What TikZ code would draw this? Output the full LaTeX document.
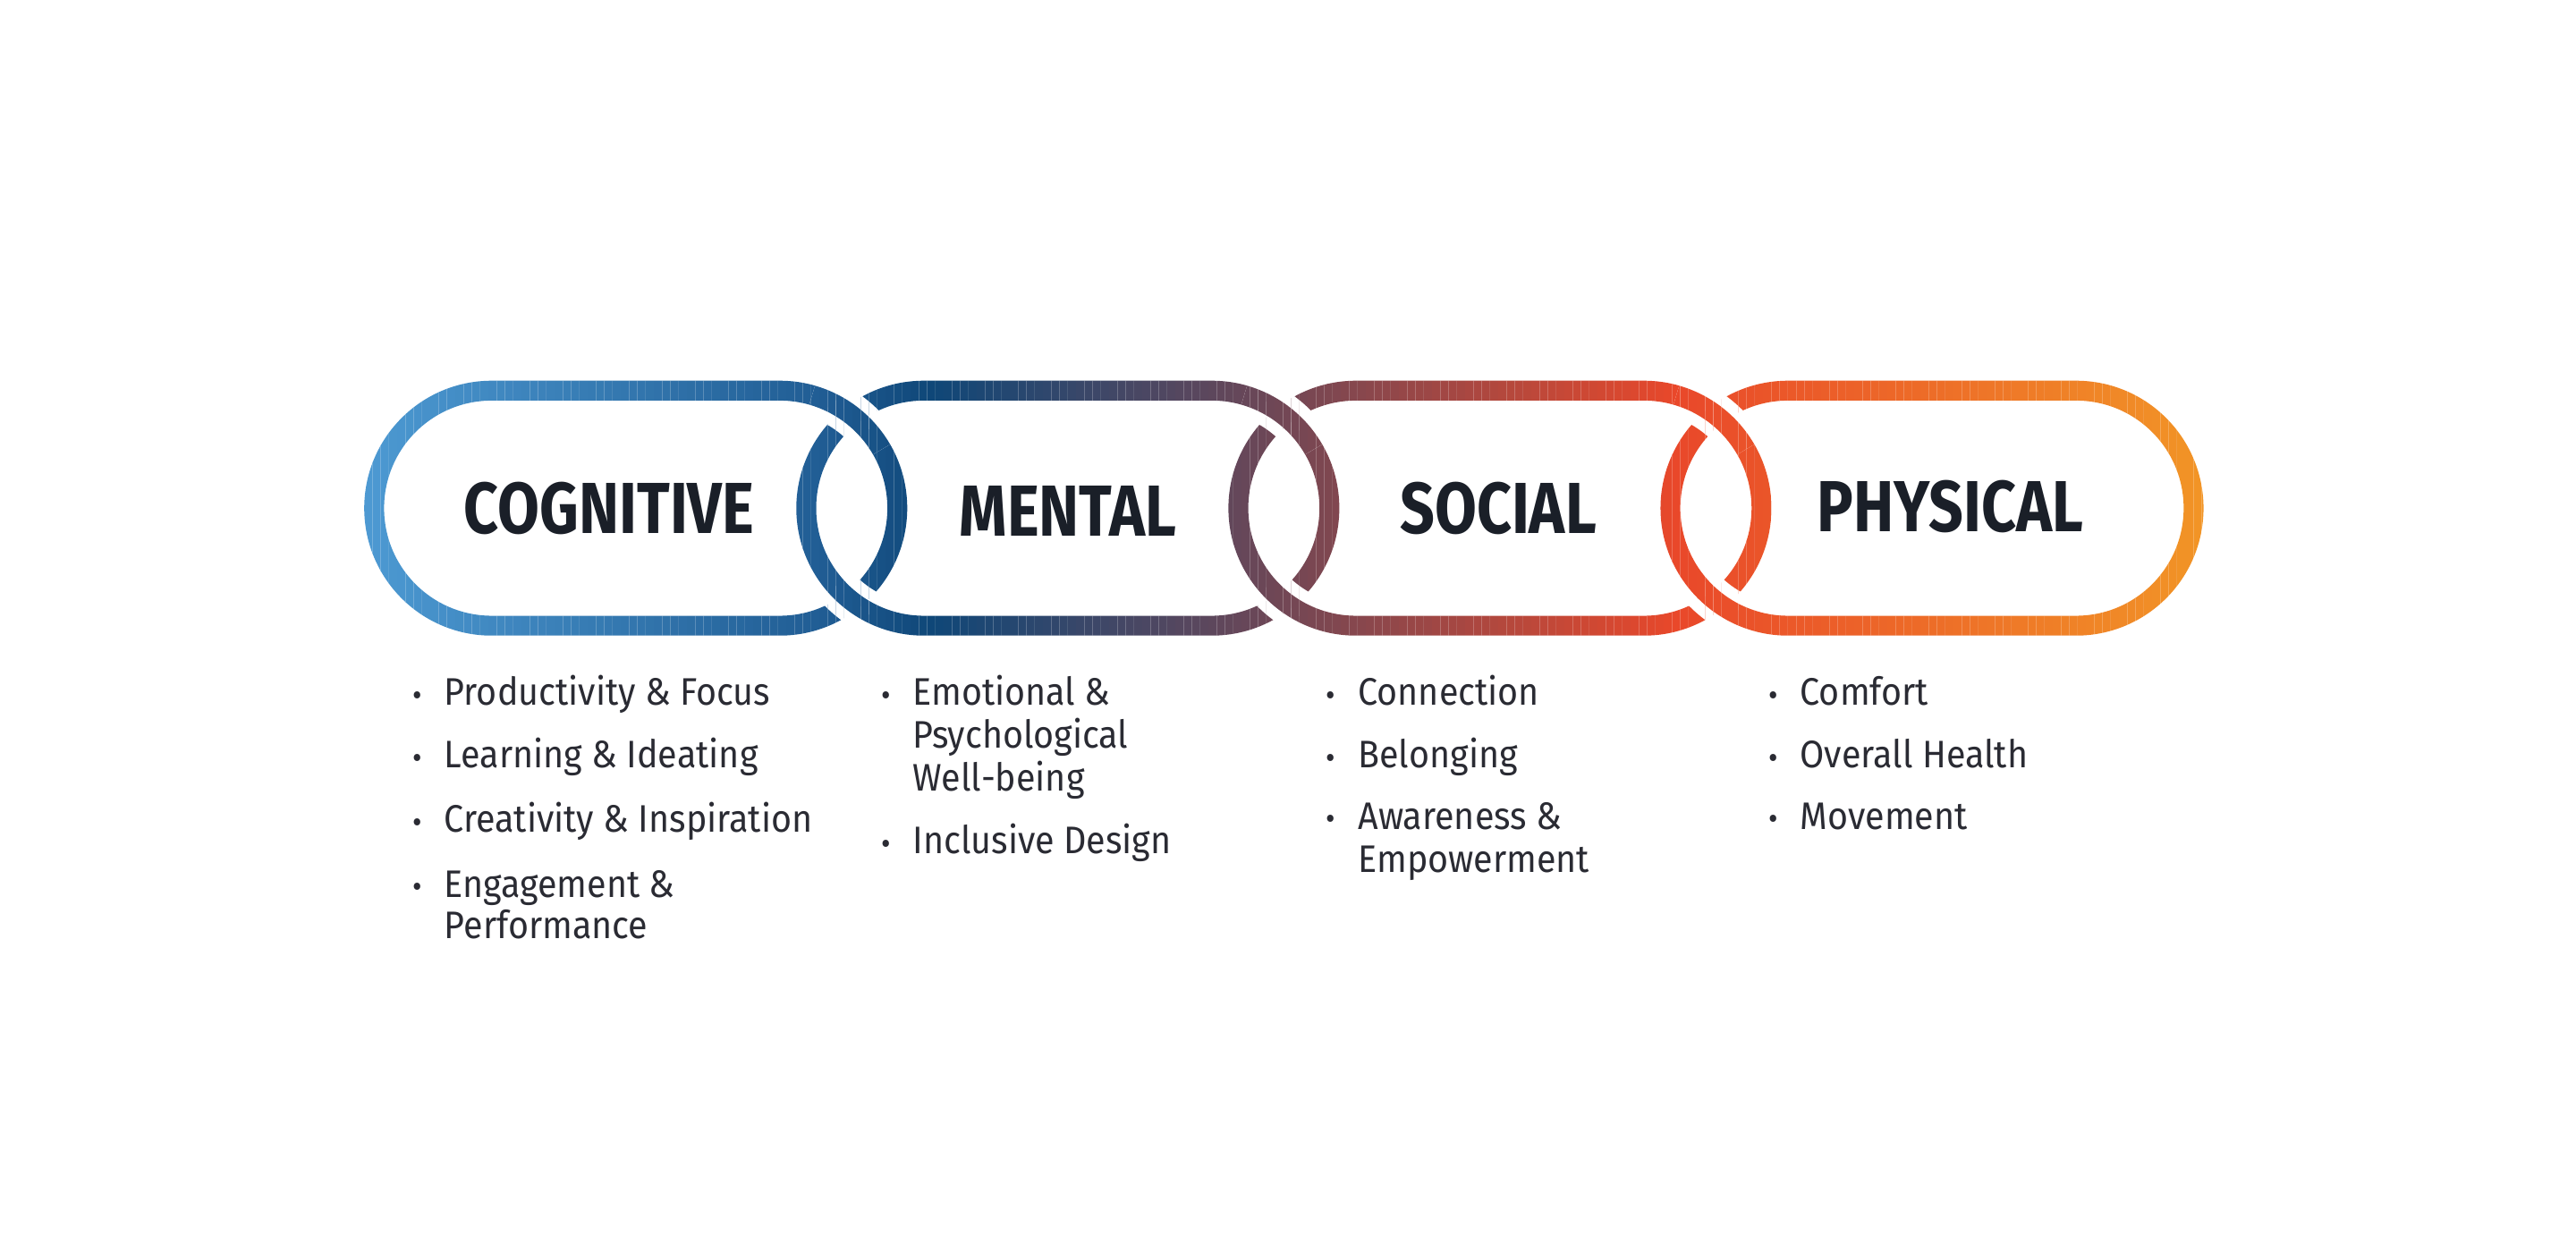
\documentclass[tikz,border=0pt]{standalone}
\usepackage{fontspec}
\setmainfont{Fira Sans}
\newfontfamily\titlefont[FakeStretch=0.84]{Fira Sans}
\newfontfamily\itemfont[FakeStretch=0.92]{Fira Sans}
\usepackage{tikz}
\usetikzlibrary{positioning}
\definecolor{cA}{HTML}{4D9AD3}
\definecolor{cB}{HTML}{1F5B92}
\definecolor{cC}{HTML}{0F4778}
\definecolor{cD}{HTML}{7A4752}
\definecolor{cE}{HTML}{E9482A}
\definecolor{cF}{HTML}{F29826}
\definecolor{titlecol}{HTML}{1A1F28}
\definecolor{itemcol}{HTML}{2A2B33}
\tikzset{
    halo/.style = {draw=white, line width=0.48cm},
    linkline/.style = {draw=strip, line width=0.222cm},
    title/.style = {font=\titlefont\bfseries\fontsize{23}{26}\selectfont,
                    text=titlecol, inner sep=0pt},
    item/.style = {font=\itemfont\fontsize{12.2}{14}\selectfont, text=itemcol,
                   anchor=west, inner sep=0pt, text height=0.72em, text depth=0.2em},
    dot/.style = {font=\itemfont\fontsize{10}{12}\selectfont, text=itemcol,
                  anchor=center, inner sep=0pt}
}
% one pill of the chain
\newcommand{\pillpath}[2]{(#1,236) -- (#2,236) arc[start angle=-90,end angle=90,radius=71]
    -- (#1,378) arc[start angle=90,end angle=270,radius=71] -- cycle}
\newcommand{\drawchain}{%
    \foreach \lx in {297,558,819,1080}{
        \pgfmathsetmacro\rx{\lx+174}
        \draw[halo] \pillpath{\lx}{\rx};
        \draw[linkline] \pillpath{\lx}{\rx};
    }
    % upper crossings: left link on top
    \foreach \rx in {471,732,993}{
        \draw[halo] (\rx,307) ++(-74:71) arc[start angle=-74,end angle=-30,radius=71];
        \draw[linkline] (\rx,307) ++(-74:71) arc[start angle=-74,end angle=-30,radius=71];
    }
}

\begin{document}
\begin{tikzpicture}[x=0.01851cm, y=-0.01851cm]
    \useasboundingbox[fill=white] (0,0) rectangle (1556,756);

    % chain, coloured strip by strip
    \foreach \xa/\xb/\ca/\cb in {215/500/cA/cB, 500/560/cB/cC, 560/790/cC/cD,
                                 790/1010/cD/cE, 1010/1340/cE/cF}{
        \pgfmathtruncatemacro\n{(\xb-\xa)/5-1}
        \foreach \i in {0,...,\n}{
            \pgfmathsetmacro\xx{\xa+5*\i}
            \pgfmathtruncatemacro\p{100*\i/(\n+1)}
            \colorlet{strip}{\cb!\p!\ca}
            \begin{scope}
                \clip (\xx,180) rectangle (\xx+5.6,430);
                \drawchain
            \end{scope}
        }
    }

    % titles
    \node[title] (cognitive) at (368,307) {COGNITIVE};
    \node[title] (mental)    at (645,309) {MENTAL};
    \node[title] (social)    at (905,307) {SOCIAL};
    \node[title] (physical)  at (1178,306) {PHYSICAL};

    % lists
    \foreach \tx/\ty/\txt/\bul in {
        268/421/Productivity \& Focus/1, 268/459/Learning \& Ideating/1,
        268/498/Creativity \& Inspiration/1, 268/537/Engagement \&/1,
        268/562/Performance/0,
        551/421/Emotional \&/1, 551/447/Psychological/0, 551/473/Well-being/0,
        551/511/Inclusive Design/1,
        820/421/Connection/1, 820/459/Belonging/1, 820/496/Awareness \&/1,
        820/522/Empowerment/0,
        1087/421/Comfort/1, 1087/459/Overall Health/1, 1087/496/Movement/1}{
        \node[item] (line-\tx-\ty) at (\tx,\ty) {\txt};
        \ifnum\bul=1
            \node[dot] (dot-\tx-\ty) at (\tx-16,\ty+1) {•};
        \fi
    }
\end{tikzpicture}
\end{document}
